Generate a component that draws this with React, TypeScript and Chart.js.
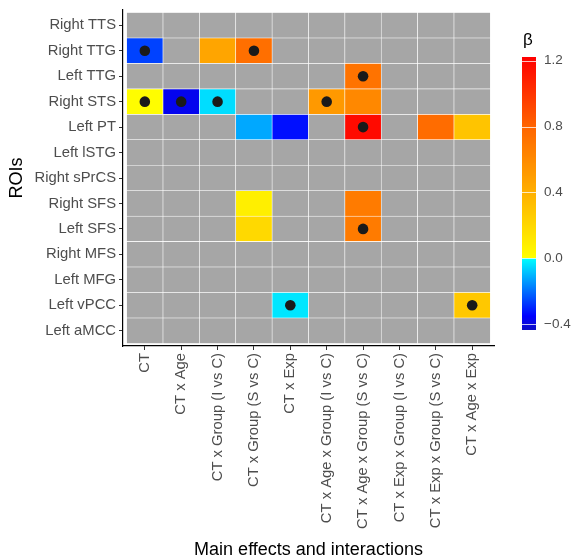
import React, { useEffect, useRef } from "react";
import { Chart, registerables } from "chart.js";

Chart.register(...registerables);

// ---------- data ----------
const EFFECTS = [
  "CT",
  "CT x Age",
  "CT x Group (I vs C)",
  "CT x Group (S vs C)",
  "CT x Exp",
  "CT x Age x Group (I vs C)",
  "CT x Age x Group (S vs C)",
  "CT x Exp x Group (I vs C)",
  "CT x Exp x Group (S vs C)",
  "CT x Age x Exp",
];

const ROIS = [
  "Right TTS",
  "Right TTG",
  "Left TTG",
  "Right STS",
  "Left PT",
  "Left lSTG",
  "Right sPrCS",
  "Right SFS",
  "Left SFS",
  "Right MFS",
  "Left MFG",
  "Left vPCC",
  "Left aMCC",
];

// beta per ROI (rows) and effect (columns, same order as EFFECTS); null = not retained
const BETA: (number | null)[][] = [
  [null, null, null, null, null, null, null, null, null, null], // Right TTS
  [-0.26, null, 0.46, 0.74, null, null, null, null, null, null], // Right TTG
  [null, null, null, null, null, null, 0.72, null, null, null], // Left TTG
  [0.01, -0.375, -0.047, null, null, 0.52, 0.61, null, null, null], // Right STS
  [null, null, null, -0.12, -0.33, null, 1.18, null, 0.76, 0.3], // Left PT
  [null, null, null, null, null, null, null, null, null, null], // Left lSTG
  [null, null, null, null, null, null, null, null, null, null], // Right sPrCS
  [null, null, null, 0.08, null, null, 0.68, null, null, null], // Right SFS
  [null, null, null, 0.19, null, null, 0.68, null, null, null], // Left SFS
  [null, null, null, null, null, null, null, null, null, null], // Right MFS
  [null, null, null, null, null, null, null, null, null, null], // Left MFG
  [null, null, null, null, -0.034, null, null, null, null, 0.28], // Left vPCC
  [null, null, null, null, null, null, null, null, null, null], // Left aMCC
];

// significant effects (black dots): [ROI, effect]
const SIGNIFICANT: [string, string][] = [
  ["Right TTG", "CT"],
  ["Right TTG", "CT x Group (S vs C)"],
  ["Left TTG", "CT x Age x Group (S vs C)"],
  ["Right STS", "CT"],
  ["Right STS", "CT x Age"],
  ["Right STS", "CT x Group (I vs C)"],
  ["Right STS", "CT x Age x Group (I vs C)"],
  ["Left PT", "CT x Age x Group (S vs C)"],
  ["Left SFS", "CT x Age x Group (S vs C)"],
  ["Left vPCC", "CT x Exp"],
  ["Left vPCC", "CT x Age x Exp"],
];

const COLORBAR_TICKS = [-0.4, 0.0, 0.4, 0.8, 1.2];
const COLORBAR_LABELS = ["\u22120.4", "0.0", "0.4", "0.8", "1.2"];
const BETA_MIN = -0.43;
const BETA_MAX = 1.22;

// colour scale: blue -> cyan below 0, yellow -> orange -> red above 0
const NEG_STOPS: [number, number[]][] = [
  [-0.43, [12, 12, 200]],
  [-0.35, [0, 0, 255]],
  [0, [0, 255, 255]],
];
const POS_STOPS: [number, number[]][] = [
  [0, [255, 255, 0]],
  [0.4, [255, 176, 0]],
  [0.8, [255, 100, 0]],
  [1.22, [255, 0, 0]],
];

const NA_GREY = "#a6a6a6";
const FONT = "'Liberation Sans', Arial, Helvetica, sans-serif";

function interp(stops: [number, number[]][], v: number): string {
  if (v <= stops[0][0]) return rgb(stops[0][1]);
  for (let i = 1; i < stops.length; i++) {
    const [v1, c1] = stops[i];
    const [v0, c0] = stops[i - 1];
    if (v <= v1) {
      const t = (v - v0) / (v1 - v0);
      return rgb(c0.map((c, k) => c + (c1[k] - c) * t));
    }
  }
  return rgb(stops[stops.length - 1][1]);
}
function rgb(c: number[]) {
  return `rgb(${Math.round(c[0])},${Math.round(c[1])},${Math.round(c[2])})`;
}
function betaColor(v: number): string {
  return v < 0 ? interp(NEG_STOPS, v) : interp(POS_STOPS, v);
}

const colorbarPlugin = {
  id: "colorbar",
  afterDraw(chart: any) {
    const s = chart.scales.beta;
    const ctx = chart.ctx as CanvasRenderingContext2D;
    const x0 = s.left + 28;
    const w = 14;
    const top = s.getPixelForValue(BETA_MAX);
    const bot = s.getPixelForValue(BETA_MIN);
    ctx.save();
    for (let y = Math.floor(top); y < Math.ceil(bot); y++) {
      const v = s.getValueForPixel(y + 0.5);
      ctx.fillStyle = betaColor(v);
      ctx.fillRect(x0, y, w, 1);
    }
    ctx.strokeStyle = "rgba(255,255,255,0.75)";
    ctx.lineWidth = 1;
    COLORBAR_TICKS.forEach((t) => {
      const y = Math.round(s.getPixelForValue(t)) + 0.5;
      ctx.beginPath();
      ctx.moveTo(x0, y);
      ctx.lineTo(x0 + w, y);
      ctx.stroke();
    });
    ctx.fillStyle = "#000";
    ctx.font = `17px ${FONT}`;
    ctx.textAlign = "left";
    ctx.textBaseline = "alphabetic";
    ctx.fillText("\u03b2", x0 + 1, 45);
    ctx.restore();
  },
};

export default function App() {
  const ref = useRef<HTMLCanvasElement | null>(null);

  useEffect(() => {
    if (!ref.current) return;
    const cells: any[] = [];
    const colors: string[] = [];
    ROIS.forEach((_, r) =>
      EFFECTS.forEach((__, c) => {
        const v = BETA[r][c];
        cells.push({ x: c, y: [r - 0.5, r + 0.5] });
        colors.push(v == null ? NA_GREY : betaColor(v));
      })
    );
    const dots = SIGNIFICANT.map(([roi, eff]) => ({
      x: EFFECTS.indexOf(eff),
      y: ROIS.indexOf(roi),
    }));

    const tickFont = { family: FONT, size: 14.8 };

    const chart = new Chart(ref.current, {
      type: "bar",
      data: {
        datasets: [
          {
            type: "scatter",
            data: dots,
            pointRadius: 5.3,
            pointHoverRadius: 5.3,
            backgroundColor: "#1a1a1a",
            borderWidth: 0,
            order: 0,
          } as any,
          {
            type: "bar",
            data: cells,
            backgroundColor: colors,
            borderColor: "#ffffff",
            borderWidth: 0.6,
            borderSkipped: false,
            barPercentage: 1,
            categoryPercentage: 1,
            grouped: false,
            order: 1,
          } as any,
        ],
      },
      options: {
        animation: false,
        responsive: false,
        events: [],
        layout: { padding: { top: 10, left: 0, right: 0, bottom: 0 } },
        plugins: { legend: { display: false }, tooltip: { enabled: false } },
        scales: {
          x: {
            type: "linear",
            position: "bottom",
            min: -0.6,
            max: 9.6,
            offset: false,
            afterBuildTicks: (s: any) => {
              s.ticks = EFFECTS.map((_, i) => ({ value: i }));
            },
            afterFit: (s: any) => {
              s.height = 212;
              s.paddingLeft = 0;
              s.paddingRight = 0;
            },
            ticks: {
              autoSkip: false,
              minRotation: 90,
              maxRotation: 90,
              padding: 3,
              color: "#4d4d4d",
              font: tickFont,
              callback: (v: any) => EFFECTS[v as number],
            },
            grid: {
              display: true,
              offset: false,
              drawOnChartArea: false,
              drawTicks: true,
              tickLength: 4,
              color: "#333333",
              lineWidth: 1,
            },
            border: { display: true, color: "#000000", width: 1.2 },
            title: {
              display: true,
              text: "Main effects and interactions",
              color: "#000000",
              font: { family: FONT, size: 18, lineHeight: 0.85 },
              padding: 0,
            },
          } as any,
          y: {
            type: "linear",
            position: "left",
            reverse: true,
            min: -0.6,
            max: 12.6,
            beginAtZero: false,
            afterBuildTicks: (s: any) => {
              s.ticks = ROIS.map((_, i) => ({ value: i }));
            },
            afterFit: (s: any) => {
              s.width = 123;
              s.paddingTop = 0;
              s.paddingBottom = 0;
            },
            ticks: {
              autoSkip: false,
              padding: 3,
              color: "#4d4d4d",
              font: tickFont,
              callback: (v: any) => ROIS[v as number],
            },
            grid: {
              display: true,
              drawOnChartArea: false,
              drawTicks: true,
              tickLength: 4,
              color: "#333333",
              lineWidth: 1,
            },
            border: { display: true, color: "#000000", width: 1.2 },
            title: {
              display: true,
              text: "ROIs",
              color: "#000000",
              font: { family: FONT, size: 18 },
              padding: { top: 6, bottom: 0 },
            },
          } as any,
          beta: {
            type: "linear",
            position: "right",
            min: -0.5317,
            max: 1.5077,
            afterBuildTicks: (s: any) => {
              s.ticks = COLORBAR_TICKS.map((v) => ({ value: v }));
            },
            afterFit: (s: any) => {
              s.width = 81;
              s.paddingTop = 0;
              s.paddingBottom = 0;
            },
            ticks: {
              autoSkip: false,
              padding: 50,
              color: "#4d4d4d",
              font: { family: FONT, size: 13.5 },
              callback: (_v: any, i: number) => COLORBAR_LABELS[i],
            },
            grid: { display: false, drawTicks: false },
            border: { display: false },
          } as any,
        },
      },
      plugins: [colorbarPlugin],
    });
    return () => chart.destroy();
  }, []);

  return (
    <div style={{ position: "absolute", left: 0, top: 0, width: 575, height: 558 }}>
      <canvas ref={ref} width={575} height={558} style={{ display: "block" }} />
    </div>
  );
}
